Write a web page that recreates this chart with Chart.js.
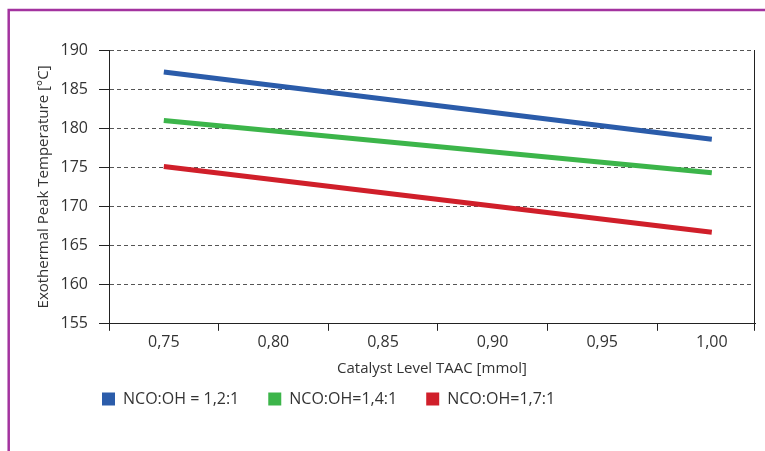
<!DOCTYPE html>
<html>
<head>
<meta charset="utf-8">
<script src="https://cdn.jsdelivr.net/npm/chart.js@4.4.0/dist/chart.umd.min.js"></script>
<style>
  html, body { margin: 0; padding: 0; background: #fff; }
  #wrap { width: 765px; height: 451px; position: relative; }
</style>
</head>
<body>
<div id="wrap"><canvas id="tempChart"></canvas></div>
<script>
// catalyst level TAAC [mmol]
const catalystLevels = [0.75, 0.80, 0.85, 0.90, 0.95, 1.00];
const catalystLabels = ['0,75', '0,80', '0,85', '0,90', '0,95', '1,00'];
const tempTicks = [155, 160, 165, 170, 175, 180, 185, 190];

// exothermal peak temperature, only the two end points are plotted (straight lines)
const ratio12 = [187.2, null, null, null, null, 178.6];
const ratio14 = [181.0, null, null, null, null, 174.3];
const ratio17 = [175.1, null, null, null, null, 166.7];

const seriesNames = ['NCO:OH = 1,2:1', 'NCO:OH=1,4:1', 'NCO:OH=1,7:1'];
const seriesColors = ['#2b5caa', '#3cb54a', '#d01f2a'];

Chart.defaults.font.family = "'Open Sans', sans-serif";
Chart.defaults.color = '#333';

function points(values) {
    return catalystLevels.map((x, i) => ({ x: x, y: values[i] }));
}

function lineSet(label, values, color) {
    return {
        label: label,
        data: points(values),
        borderColor: color,
        backgroundColor: color,
        borderWidth: 5,
        pointRadius: 0,
        tension: 0,
        spanGaps: true
    };
}

// purple frame, right border of plot and legend placement
const framePlugin = {
    id: 'frame',
    afterLayout(chart) {
        const lg = chart.legend;
        lg.left += 42; lg.right += 42;
        lg.top -= 18; lg.bottom -= 18;
    },
    afterDraw(chart) {
        const ctx = chart.ctx;
        const a = chart.chartArea;
        ctx.save();
        ctx.strokeStyle = '#222';
        ctx.lineWidth = 1;
        ctx.beginPath();
        ctx.moveTo(a.right - 0.5, a.top);
        ctx.lineTo(a.right - 0.5, a.bottom + 7);
        ctx.stroke();

        ctx.strokeStyle = '#a3339f';
        ctx.lineWidth = 2.5;
        ctx.beginPath();
        ctx.moveTo(8.7, chart.height);
        ctx.lineTo(8.7, 10);
        ctx.lineTo(chart.width, 10);
        ctx.stroke();
        ctx.restore();
    }
};

new Chart(document.getElementById('tempChart'), {
    type: 'line',
    data: {
        datasets: [
            lineSet(seriesNames[0], ratio12, seriesColors[0]),
            lineSet(seriesNames[1], ratio14, seriesColors[1]),
            lineSet(seriesNames[2], ratio17, seriesColors[2])
        ]
    },
    options: {
        responsive: true,
        maintainAspectRatio: false,
        animation: false,
        layout: { padding: { left: 31, top: 50, right: 10, bottom: 16 } },
        plugins: {
            tooltip: { enabled: false },
            legend: {
                position: 'bottom',
                align: 'start',
                labels: {
                    boxWidth: 13,
                    boxHeight: 13,
                    padding: 29,
                    font: { size: 16 },
                    color: '#333',
                    generateLabels(chart) {
                        return Chart.defaults.plugins.legend.labels.generateLabels(chart)
                            .map(item => Object.assign(item, { lineWidth: 0 }));
                    }
                }
            }
        },
        scales: {
            x: {
                type: 'linear',
                min: 0.725,
                max: 1.0197,
                afterBuildTicks(scale) {
                    const t = [];
                    catalystLevels.forEach(v => {
                        t.push({ value: +(v - 0.025).toFixed(3) });
                        t.push({ value: v });
                    });
                    scale.ticks = t;
                },
                ticks: {
                    autoSkip: false,
                    maxRotation: 0,
                    padding: 2,
                    font: { size: 16 },
                    color: '#333',
                    callback(value) {
                        const i = catalystLevels.indexOf(value);
                        return i >= 0 ? catalystLabels[i] : '';
                    }
                },
                grid: {
                    drawOnChartArea: false,
                    tickLength: 7,
                    tickColor: ctx => catalystLevels.includes(ctx.tick.value) ? 'rgba(0,0,0,0)' : '#222'
                },
                border: { color: '#222', width: 1 },
                title: {
                    display: true,
                    text: 'Catalyst Level TAAC [mmol]',
                    font: { size: 15 },
                    color: '#333',
                    padding: { top: 6, bottom: 2 }
                }
            },
            y: {
                min: 155,
                max: 190,
                afterBuildTicks(scale) {
                    scale.ticks = tempTicks.map(v => ({ value: v }));
                },
                afterFit(scale) { scale.width = 78; },
                ticks: {
                    padding: 11,
                    font: { size: 16 },
                    color: '#333'
                },
                grid: {
                    color: '#555',
                    tickColor: '#222',
                    tickLength: 10,
                    tickBorderDash: []
                },
                border: { color: '#222', width: 1, dash: [4, 3] },
                title: {
                    display: true,
                    text: 'Exothermal Peak Temperature [°C]',
                    font: { size: 15 },
                    color: '#333',
                    padding: { top: 4, bottom: 0 }
                }
            }
        }
    },
    plugins: [framePlugin]
});
</script>
</body>
</html>
